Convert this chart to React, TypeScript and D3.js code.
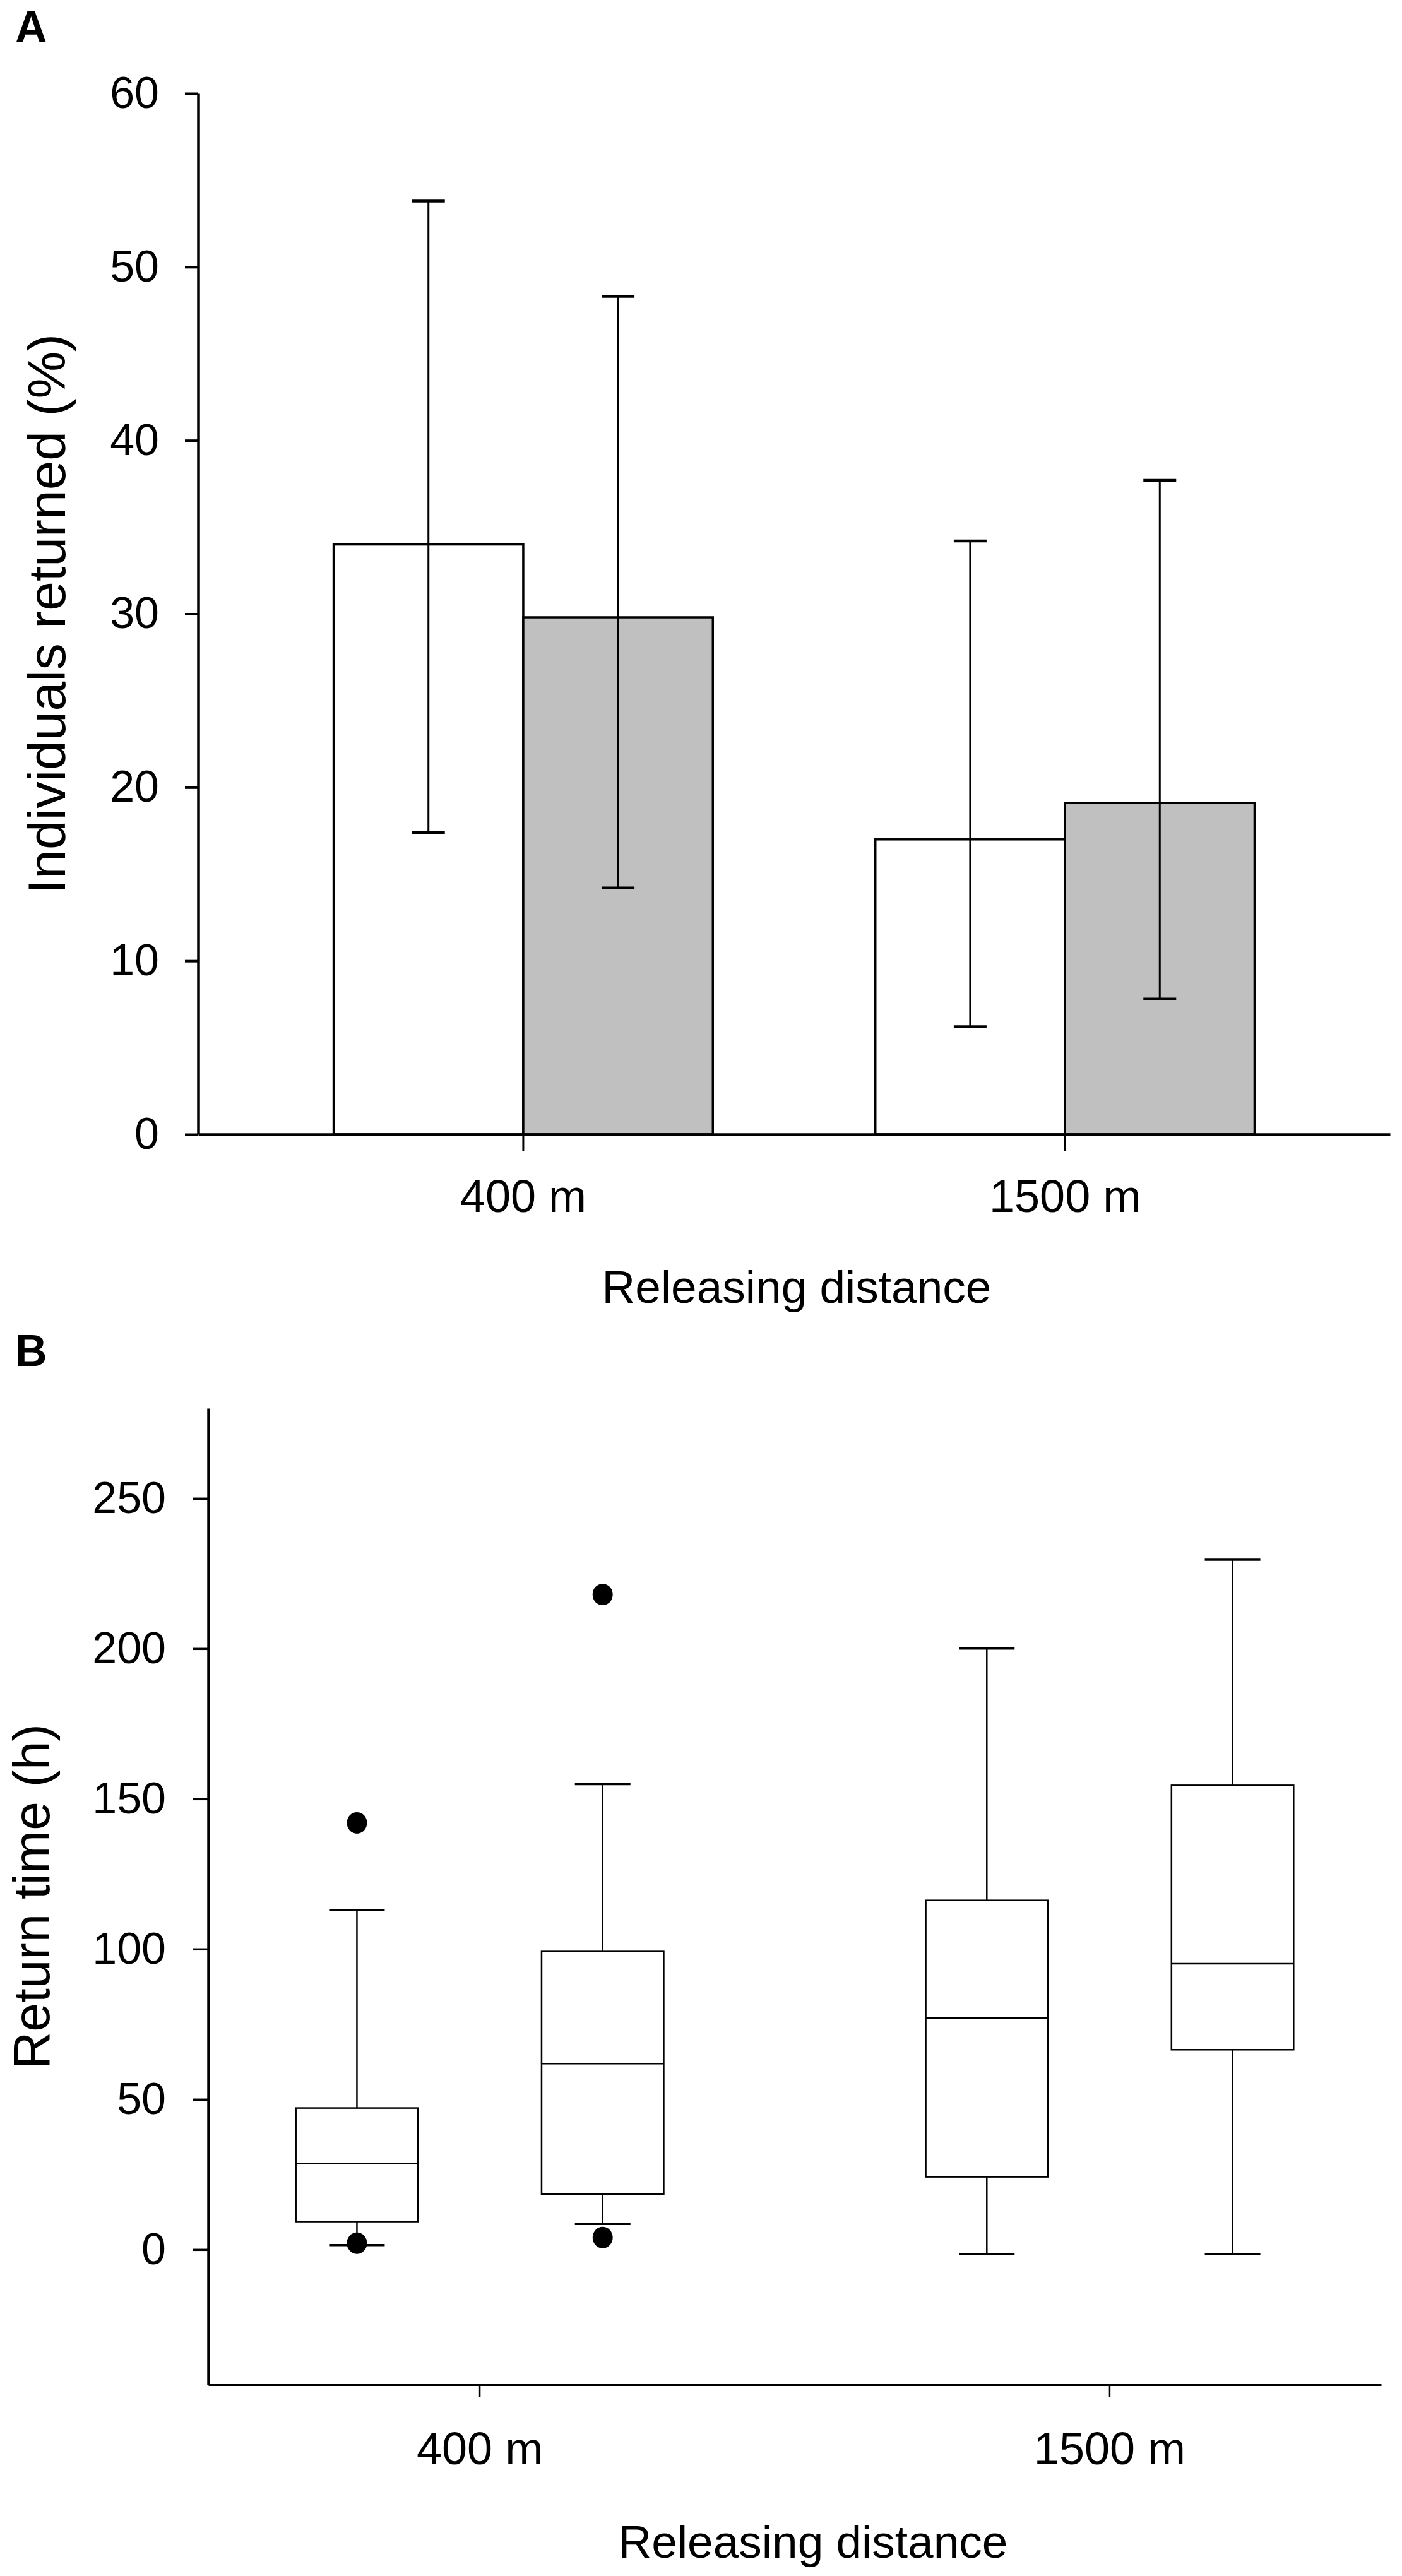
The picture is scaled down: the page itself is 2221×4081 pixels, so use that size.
import React, { useEffect, useRef } from 'react';
import * as d3 from 'd3';

const WIDTH = 2221;
const HEIGHT = 4081;
const FONT = '"Liberation Sans", Arial, Helvetica, sans-serif';

const categories = ['400 m', '1500 m'];
const seriesKeys = ['s1', 's2'];

// Panel A - individuals returned (%), mean with error bars
const meanS1 = [34.0, 17.0];
const meanS2 = [29.8, 19.1];
const upperS1 = [53.8, 34.2];
const lowerS1 = [17.4, 6.2];
const upperS2 = [48.3, 37.7];
const lowerS2 = [14.2, 7.8];
const ticksA = [0, 10, 20, 30, 40, 50, 60];
const fillsA = ['#ffffff', '#c0c0c0'];

// Panel B - return time (h), box plots (order: 400 m s1, 400 m s2, 1500 m s1, 1500 m s2)
const boxGroup = [0, 0, 1, 1];
const boxSeries = [0, 1, 0, 1];
const whiskerLow = [1.5, 8.5, -1.5, -1.5];
const quart1 = [9.3, 18.5, 24.2, 66.5];
const median = [28.7, 61.9, 77.1, 95.1];
const quart3 = [47.1, 99.2, 116.2, 154.5];
const whiskerHigh = [113, 154.9, 200, 229.6];
const outliers = [[142, 2.1], [218, 4.0], [], []];
const ticksB = [0, 50, 100, 150, 200, 250];

export default function App() {
  const svgRef = useRef<SVGSVGElement>(null);

  useEffect(() => {
    if (!svgRef.current) return;
    const svg = d3.select(svgRef.current);
    svg.selectAll('*').remove();

    svg.append('rect').attr('width', WIDTH).attr('height', HEIGHT).attr('fill', '#ffffff');

    // ---------- Panel A ----------
    const gA = svg.append('g');

    const xA = d3.scaleBand<string>()
      .domain(categories)
      .range([314, 2202])
      .paddingInner(0.3)
      .paddingOuter(0.25);

    const xInA = d3.scaleBand<string>()
      .domain(seriesKeys)
      .range([0, xA.bandwidth()]);

    const yA = d3.scaleLinear().domain([0, 60]).range([1797, 148]);

    const barsA = categories.flatMap((c, i) => [
      { cat: c, key: 's1', mean: meanS1[i], lo: lowerS1[i], hi: upperS1[i], fill: fillsA[0] },
      { cat: c, key: 's2', mean: meanS2[i], lo: lowerS2[i], hi: upperS2[i], fill: fillsA[1] }
    ]);

    gA.selectAll('.bar')
      .data(barsA)
      .enter()
      .append('rect')
      .attr('class', 'bar')
      .attr('x', d => (xA(d.cat) as number) + (xInA(d.key) as number))
      .attr('y', d => yA(d.mean))
      .attr('width', xInA.bandwidth())
      .attr('height', d => yA(0) - yA(d.mean))
      .attr('fill', d => d.fill)
      .attr('stroke', '#000')
      .attr('stroke-width', 3.5);

    const capA = 26;
    const errA = gA.selectAll('.err')
      .data(barsA)
      .enter()
      .append('g')
      .attr('class', 'err')
      .attr('transform', d => `translate(${(xA(d.cat) as number) + (xInA(d.key) as number) + xInA.bandwidth() / 2},0)`);

    errA.append('line')
      .attr('x1', 0).attr('x2', 0)
      .attr('y1', d => yA(d.lo))
      .attr('y2', d => yA(d.hi))
      .attr('stroke', '#000')
      .attr('stroke-width', 3);

    errA.selectAll('.cap')
      .data(d => [d.lo, d.hi])
      .enter()
      .append('line')
      .attr('class', 'cap')
      .attr('x1', -capA).attr('x2', capA)
      .attr('y1', v => yA(v)).attr('y2', v => yA(v))
      .attr('stroke', '#000')
      .attr('stroke-width', 4.5);

    // axes A
    const yAxisA = gA.append('g')
      .attr('transform', `translate(314,0)`)
      .call(d3.axisLeft(yA).tickValues(ticksA).tickSize(21).tickPadding(41).tickSizeOuter(0));
    yAxisA.select('.domain').attr('stroke-width', 4.5);
    yAxisA.selectAll('.tick line').attr('stroke-width', 4);
    yAxisA.selectAll('text')
      .attr('font-family', FONT)
      .attr('font-size', 70)
      .attr('fill', '#000');

    const xAxisA = gA.append('g')
      .attr('transform', `translate(0,${yA(0)})`)
      .call(d3.axisBottom(xA).tickSize(27).tickPadding(45).tickSizeOuter(0));
    xAxisA.select('.domain').attr('stroke-width', 4.5);
    xAxisA.selectAll('.tick line').attr('stroke-width', 3);
    xAxisA.selectAll('text')
      .attr('font-family', FONT)
      .attr('font-size', 72)
      .attr('fill', '#000');

    gA.append('text')
      .attr('x', 1262)
      .attr('y', 2064)
      .attr('text-anchor', 'middle')
      .attr('font-family', FONT)
      .attr('font-size', 73)
      .text('Releasing distance');

    gA.append('text')
      .attr('transform', `translate(103,${(yA(0) + yA(60)) / 2}) rotate(-90)`)
      .attr('text-anchor', 'middle')
      .attr('font-family', FONT)
      .attr('font-size', 84)
      .text('Individuals returned (%)');

    gA.append('text')
      .attr('x', 24)
      .attr('y', 67)
      .attr('font-family', FONT)
      .attr('font-weight', 'bold')
      .attr('font-size', 70)
      .text('A');

    // ---------- Panel B ----------
    const gB = svg.append('g');

    const xB = d3.scaleBand<string>()
      .domain(categories)
      .range([330, 2188])
      .paddingInner(0.416)
      .paddingOuter(0.139);

    const xInB = d3.scaleBand<string>()
      .domain(seriesKeys)
      .range([0, xB.bandwidth()])
      .paddingInner(0.503);

    const yB = d3.scaleLinear().domain([-45, 280]).range([3778, 2231]);

    const boxes = median.map((m, i) => ({
      cat: categories[boxGroup[i]],
      key: seriesKeys[boxSeries[i]],
      lo: whiskerLow[i],
      q1: quart1[i],
      med: m,
      q3: quart3[i],
      hi: whiskerHigh[i],
      out: outliers[i]
    }));

    const bw = xInB.bandwidth();
    const capB = 44;
    const boxG = gB.selectAll('.box')
      .data(boxes)
      .enter()
      .append('g')
      .attr('class', 'box')
      .attr('transform', d => `translate(${(xB(d.cat) as number) + (xInB(d.key) as number)},0)`);

    // whiskers
    boxG.append('line')
      .attr('x1', bw / 2).attr('x2', bw / 2)
      .attr('y1', d => yB(d.q3)).attr('y2', d => yB(d.hi))
      .attr('stroke', '#000').attr('stroke-width', 2.5);
    boxG.append('line')
      .attr('x1', bw / 2).attr('x2', bw / 2)
      .attr('y1', d => yB(d.q1)).attr('y2', d => yB(d.lo))
      .attr('stroke', '#000').attr('stroke-width', 2.5);
    boxG.selectAll('.cap')
      .data(d => [d.lo, d.hi])
      .enter()
      .append('line')
      .attr('class', 'cap')
      .attr('x1', bw / 2 - capB).attr('x2', bw / 2 + capB)
      .attr('y1', v => yB(v)).attr('y2', v => yB(v))
      .attr('stroke', '#000').attr('stroke-width', 3.5);

    boxG.append('rect')
      .attr('x', 0)
      .attr('y', d => yB(d.q3))
      .attr('width', bw)
      .attr('height', d => yB(d.q1) - yB(d.q3))
      .attr('fill', '#fff')
      .attr('stroke', '#000')
      .attr('stroke-width', 2.5);

    boxG.append('line')
      .attr('x1', 0).attr('x2', bw)
      .attr('y1', d => yB(d.med)).attr('y2', d => yB(d.med))
      .attr('stroke', '#000').attr('stroke-width', 2.5);

    boxG.selectAll('.out')
      .data(d => d.out)
      .enter()
      .append('ellipse')
      .attr('class', 'out')
      .attr('cx', bw / 2)
      .attr('cy', v => yB(v))
      .attr('rx', 16)
      .attr('ry', 17)
      .attr('fill', '#000');

    // axes B
    const yAxisB = gB.append('g')
      .attr('transform', `translate(330,0)`)
      .call(d3.axisLeft(yB).tickValues(ticksB).tickSize(25).tickPadding(42).tickSizeOuter(0));
    yAxisB.select('.domain').attr('stroke-width', 4.5);
    yAxisB.selectAll('.tick line').attr('stroke-width', 3.5);
    yAxisB.selectAll('text')
      .attr('font-family', FONT)
      .attr('font-size', 70)
      .attr('fill', '#000');

    const xAxisB = gB.append('g')
      .attr('transform', `translate(0,3778)`)
      .call(d3.axisBottom(xB).tickSize(20).tickPadding(55).tickSizeOuter(0));
    xAxisB.select('.domain').attr('stroke-width', 3);
    xAxisB.selectAll('.tick line').attr('stroke-width', 2.5);
    xAxisB.selectAll('text')
      .attr('font-family', FONT)
      .attr('font-size', 72)
      .attr('fill', '#000');

    gB.append('text')
      .attr('x', 1288)
      .attr('y', 4052)
      .attr('text-anchor', 'middle')
      .attr('font-family', FONT)
      .attr('font-size', 73)
      .text('Releasing distance');

    gB.append('text')
      .attr('transform', `translate(78,${(yB(-45) + yB(280)) / 2}) rotate(-90)`)
      .attr('text-anchor', 'middle')
      .attr('font-family', FONT)
      .attr('font-size', 82)
      .text('Return time (h)');

    gB.append('text')
      .attr('x', 24)
      .attr('y', 2164)
      .attr('font-family', FONT)
      .attr('font-weight', 'bold')
      .attr('font-size', 70)
      .text('B');
  }, []);

  return (
    <div style={{ position: 'absolute', left: 0, top: 0 }}>
      <svg ref={svgRef} width={WIDTH} height={HEIGHT} style={{ display: 'block' }} />
    </div>
  );
}
